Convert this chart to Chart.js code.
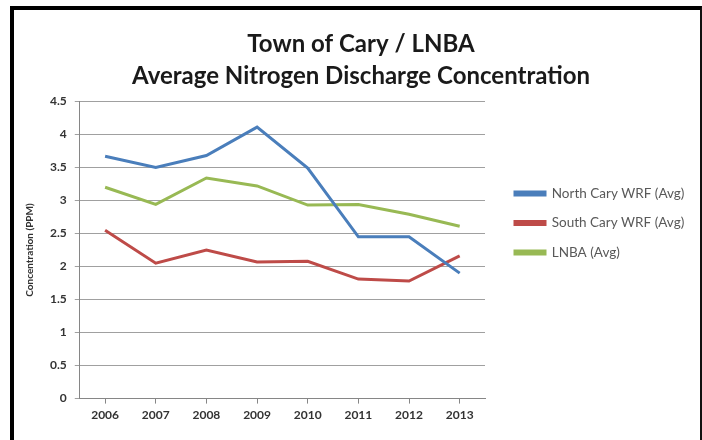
<!DOCTYPE html>
<html>
<head>
<meta charset="utf-8">
<script src="https://cdn.jsdelivr.net/npm/chart.js@4.4.1/dist/chart.umd.min.js"></script>
<style>
  html, body { margin: 0; padding: 0; background: #fff; }
  #wrap { position: relative; width: 702px; height: 440px; }
  #frame {
    position: absolute; left: 10px; top: 6px; width: 686px; height: 450px;
    border-left: 4px solid #000; border-top: 4px solid #000; border-right: 2px solid #111;
    pointer-events: none;
  }
</style>
</head>
<body>
<div id="wrap">
  <canvas id="myChart" width="702" height="440"></canvas>
  <div id="frame"></div>
</div>
<script>
  // Data
  const years = ['2006', '2007', '2008', '2009', '2010', '2011', '2012', '2013'];
  const northCary = [3.67, 3.50, 3.68, 4.11, 3.49, 2.45, 2.45, 1.90];
  const southCary = [2.55, 2.05, 2.25, 2.07, 2.08, 1.81, 1.78, 2.16];
  const lnba = [3.20, 2.94, 3.34, 3.22, 2.93, 2.94, 2.79, 2.61];
  const yTicks = [0, 0.5, 1, 1.5, 2, 2.5, 3, 3.5, 4, 4.5];

  const ctx = document.getElementById('myChart');

  const lineSet = (label, data, color) => ({
    label: label,
    data: data,
    borderColor: color,
    backgroundColor: color,
    borderWidth: 3,
    pointRadius: 0,
    tension: 0
  });

  // Legend: fixed width, items pushed a bit to the right of the plot
  const legendSpace = {
    id: 'legendSpace',
    beforeInit(chart) {
      const legend = chart.legend;
      const fit = legend.fit;
      legend.fit = function () {
        fit.call(this);
        this.width = 213;
      };
    },
    afterLayout(chart) {
      chart.legend.left += 14;
      chart.legend.right += 14;
    }
  };

  const config = {
    type: 'line',
    data: {
      labels: years,
      datasets: [
        lineSet('North Cary WRF (Avg)', northCary, '#4a7ebb'),
        lineSet('South Cary WRF (Avg)', southCary, '#be4b48'),
        lineSet('LNBA (Avg)', lnba, '#98b954')
      ]
    },
    plugins: [legendSpace],
    options: {
      responsive: false,
      animation: false,
      layout: {
        padding: { left: 24, right: 4, top: 20, bottom: 14 }
      },
      plugins: {
        title: {
          display: true,
          text: ['Town of Cary / LNBA', 'Average Nitrogen Discharge Concentration'],
          color: '#1a1a1a',
          font: { family: 'Lato', size: 24, weight: 'bold', lineHeight: 1.3 },
          padding: { top: 9, bottom: 10 }
        },
        legend: {
          position: 'right',
          labels: {
            boxWidth: 30,
            boxHeight: 3,
            padding: 16,
            color: '#595959',
            font: { family: 'Lato', size: 13.5 }
          }
        },
        tooltip: { enabled: false }
      },
      scales: {
        x: {
          offset: true,
          grid: {
            drawOnChartArea: false,
            drawTicks: true,
            tickLength: 5,
            color: '#868686'
          },
          border: { color: '#868686' },
          ticks: {
            color: '#333',
            font: { family: 'Lato', size: 12, weight: 'bold' },
            padding: 4
          }
        },
        y: {
          min: 0,
          max: 4.5,
          afterBuildTicks: axis => {
            axis.ticks = yTicks.map(v => ({ value: v }));
          },
          grid: {
            color: '#a0a0a0',
            tickLength: 5
          },
          border: { color: '#868686' },
          ticks: {
            color: '#333',
            font: { family: 'Lato', size: 12, weight: 'bold' },
            padding: 8,
            callback: v => String(v)
          },
          title: {
            display: true,
            text: 'Concentration (PPM)',
            color: '#333',
            font: { family: 'Lato', size: 10, weight: 'bold' },
            padding: { top: 0, bottom: 6 }
          }
        }
      }
    }
  };

  const myChart = new Chart(ctx, config);
</script>
</body>
</html>
